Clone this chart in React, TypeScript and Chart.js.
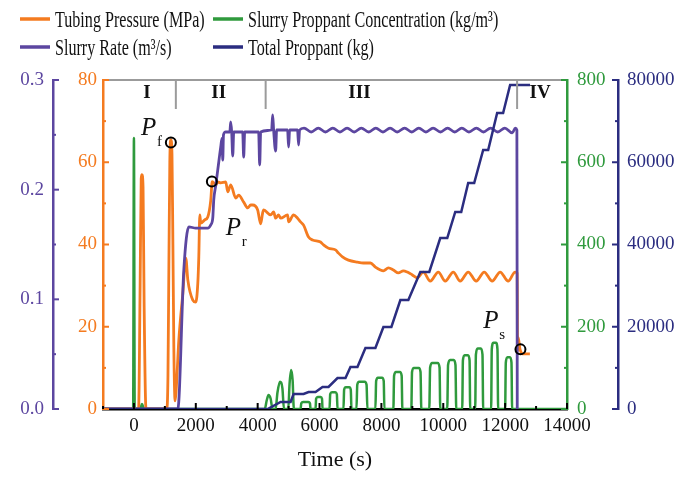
import React, { useEffect, useRef } from 'react';
import { Chart, registerables } from 'chart.js';

Chart.register(...registerables);

const SERIF = "'Liberation Serif', 'Times New Roman', Times, serif";
const ORANGE = '#f47b20';
const PURPLE = '#5c46a0';
const GREEN = '#2f9a3d';
const NAVY = '#2b2d80';
const GRAY = '#9b9b9b';
const INK = '#111111';

// ---- tick values ----
const timeTicks = [0, 2000, 4000, 6000, 8000, 10000, 12000, 14000];
const rateTicks = [0, 0.1, 0.2, 0.3];
const pressureTicks = [0, 20, 40, 60, 80];
const concTicks = [0, 200, 400, 600, 800];
const massTicks = [0, 20000, 40000, 60000, 80000];

// ---- legend labels ----
const seriesLabels = [
  'Tubing Pressure (MPa)',
  'Slurry Proppant Concentration (kg/m³)',
  'Slurry Rate (m³/s)',
  'Total Proppant (kg)',
];

// ---- stage annotations (time in s) ----
const phaseNames = ['I', 'II', 'III', 'IV'];
const phaseCenters = [419, 2742, 7290, 13130];
const phaseBounds = [1355, 4258, 12387];

// ---- marked pressure points ----
const markerTime = [1194, 2520, 12495];
const markerPressure = [64.8, 55.3, 14.5];
const markerSubs = ['f', 'r', 's'];
const markerLabelTime = [226, 2968, 11290];
const markerLabelPressure = [66.6, 42.3, 19.7];

// ---- Tubing pressure (MPa): [time s, value] ----
const pressureSeries: number[][] = [
  [-1000, 0], [150, 0], [200, 30], [235, 56], [260, 57], [295, 54], [330, 25], [390, 0],
  [1060, 0], [1100, 8], [1130, 35], [1160, 60], [1194, 65.5], [1230, 62], [1260, 40], [1290, 15], [1330, 2], [1360, 4],
  [1452, 16.8], [1581, 28.2], [1677, 36.7], [1742, 31.4], [1903, 26.5], [2000, 26], [2065, 30.6], [2097, 37],
  [2129, 47.2], [2161, 45.2], [2290, 46], [2387, 46.7], [2484, 50.8], [2530, 55.3],
  [2650, 54.5], [2710, 55.2], [2806, 55], [2968, 55.2], [3032, 52.8], [3129, 54.5], [3290, 51.3], [3387, 52],
  [3548, 50.3], [3677, 48.9], [3774, 49.6], [3839, 49.6], [4000, 48.4], [4097, 45], [4161, 47.7], [4194, 48.4],
  [4419, 47.2], [4516, 47.9], [4581, 46.4], [4677, 47.2], [4742, 46.4], [4968, 47.2], [5000, 45.5], [5161, 47.2],
  [5290, 46.4], [5387, 45.5], [5484, 44.7], [5645, 41.8], [5774, 41.1], [6032, 40.6], [6129, 39.9], [6290, 39.1],
  [6516, 38.7], [6613, 37.9], [6742, 37], [6935, 36.2], [7226, 35.7], [7419, 35.5], [7645, 35.5], [7806, 34.5],
  [7968, 33.8], [8065, 33.6], [8226, 34.3], [8387, 33.8], [8548, 33.1], [8710, 33.6], [8839, 33.3], [9000, 32.6],
  [9161, 31.9], [9355, 33.3], [9581, 31.1], [9839, 33.3], [10065, 31.1], [10323, 33.3], [10548, 31.1],
  [10806, 33.3], [11065, 31.1], [11323, 33.3], [11581, 31.1], [11839, 33.3], [12097, 31.1], [12323, 33.3],
  [12390, 33], [12400, 14], [12420, 17.5], [12480, 14.6], [12560, 13.4], [12800, 13.4],
];

// ---- Slurry rate (m³/s) ----
const rateSeries: number[][] = [
  [-1000, 0], [1419, 0], [1613, 0.127], [1774, 0.166], [2000, 0.165], [2387, 0.165], [2484, 0.168], [2548, 0.174],
  [2581, 0.191], [2645, 0.204], [2710, 0.218], [2806, 0.239], [2850, 0.247], [2871, 0.227], [2895, 0.25],
  [2968, 0.2526], [3100, 0.2526], [3129, 0.2617], [3160, 0.2526], [3194, 0.2307], [3226, 0.2526],
  [3516, 0.2526], [3548, 0.2298], [3580, 0.2526], [4032, 0.2526], [4065, 0.2225], [4097, 0.2526],
  [4452, 0.2544], [4484, 0.2681], [4516, 0.2544], [4581, 0.2352], [4613, 0.2544], [4968, 0.2544], [5000, 0.2389],
  [5032, 0.2544], [5290, 0.2544], [5323, 0.2407], [5355, 0.2544],
  [5500, 0.2562], [5730, 0.2526], [5960, 0.2562], [6190, 0.2526], [6430, 0.2562], [6660, 0.2526], [6890, 0.2562],
  [7120, 0.2526], [7350, 0.2562], [7590, 0.2526], [7820, 0.2562], [8050, 0.2526], [8280, 0.2562], [8510, 0.2526],
  [8750, 0.2562], [8980, 0.2526], [9210, 0.2562], [9440, 0.2526], [9670, 0.2562], [9910, 0.2526], [10140, 0.2562],
  [10370, 0.2526], [10600, 0.2562], [10830, 0.2526], [11070, 0.2562], [11300, 0.2526], [11530, 0.2562],
  [11760, 0.2526], [11990, 0.2562], [12230, 0.2517], [12330, 0.2562], [12380, 0.2544], [12392, 0],
];

// ---- Slurry proppant concentration (kg/m³) ----
const concSeries: number[][] = [
  [-1000, 0], [-25, 0], [0, 659], [25, 0], [200, 0], [260, 12], [330, 0],
  [4230, 0], [4290, 20], [4350, 34], [4420, 25], [4480, 0],
  [4580, 0], [4640, 40], [4720, 66], [4800, 50], [4850, 0],
  [4990, 0], [5030, 60], [5080, 95], [5130, 70], [5170, 0],
  [5387, 0], [5410, 14], [5470, 17], [5640, 17], [5690, 14], [5710, 0],
  [5871, 0], [5890, 25], [5940, 29], [6040, 29], [6080, 25], [6097, 0],
  [6323, 0], [6345, 36], [6400, 41], [6510, 41], [6560, 36], [6581, 0],
  [6774, 0], [6795, 47], [6850, 53], [6960, 53], [7010, 47], [7032, 0],
  [7194, 0], [7220, 59], [7280, 66], [7460, 66], [7520, 59], [7548, 0],
  [7806, 0], [7830, 68], [7890, 76], [8020, 76], [8075, 68], [8097, 0],
  [8387, 0], [8410, 81], [8470, 90], [8600, 90], [8655, 81], [8677, 0],
  [8968, 0], [8990, 90], [9050, 100], [9210, 100], [9265, 90], [9290, 0],
  [9548, 0], [9575, 101], [9640, 112], [9820, 112], [9880, 101], [9903, 0],
  [10129, 0], [10155, 107], [10220, 119], [10340, 119], [10395, 107], [10419, 0],
  [10613, 0], [10635, 118], [10690, 131], [10800, 131], [10850, 118], [10871, 0],
  [11032, 0], [11055, 132], [11110, 147], [11215, 147], [11268, 132], [11290, 0],
  [11548, 0], [11568, 145], [11620, 161], [11705, 161], [11752, 145], [11774, 0],
  [12000, 0], [12022, 113], [12075, 126], [12155, 126], [12205, 113], [12226, 0],
  [14000, 0],
];

// ---- Total proppant (kg) ----
const massSeries: number[][] = [
  [-1000, 0], [4323, 0], [4742, 1702], [5065, 1702], [5161, 3647], [5484, 3647], [5645, 4134], [5871, 4134],
  [6097, 5350], [6290, 5350], [6581, 7538], [6839, 7538], [7000, 10213], [7226, 10213], [7484, 14833],
  [7806, 14833], [8065, 19939], [8323, 19939], [8613, 26505], [8871, 26505], [9258, 33313], [9548, 33313],
  [9903, 41581], [10129, 41581], [10387, 47903], [10581, 47903], [10806, 54954], [11000, 54954],
  [11290, 62979], [11452, 62979], [11742, 71976], [11935, 71976], [12161, 78784], [12806, 78784],
];

const toXY = (arr: number[][]) => arr.map(([x, y]) => ({ x, y }));

function line(ctx: CanvasRenderingContext2D, x1: number, y1: number, x2: number, y2: number) {
  ctx.beginPath();
  ctx.moveTo(x1, y1);
  ctx.lineTo(x2, y2);
  ctx.stroke();
}

function drawYTicks(ctx: CanvasRenderingContext2D, scale: any, values: number[], xLine: number, dir: number, color: string) {
  ctx.strokeStyle = color;
  ctx.lineWidth = 2;
  for (let i = 0; i < values.length; i++) {
    const y = scale.getPixelForValue(values[i]);
    line(ctx, xLine, y, xLine + dir * 6, y);
    if (i < values.length - 1) {
      const ym = scale.getPixelForValue((values[i] + values[i + 1]) / 2);
      line(ctx, xLine, ym, xLine + dir * 3, ym);
    }
  }
}

const decorPlugin = {
  id: 'decor',
  afterDraw(chart: any) {
    const ctx: CanvasRenderingContext2D = chart.ctx;
    const { left, right, top, bottom } = chart.chartArea;
    const s = chart.scales;
    ctx.save();
    ctx.lineCap = 'butt';

    // top frame with stage dividers
    ctx.strokeStyle = GRAY;
    ctx.lineWidth = 2;
    line(ctx, left, top, right, top);
    phaseBounds.forEach((t) => {
      const x = s.x.getPixelForValue(t);
      line(ctx, x, top, x, top + 29);
    });
    ctx.fillStyle = INK;
    ctx.font = `bold 19px ${SERIF}`;
    ctx.textAlign = 'center';
    ctx.textBaseline = 'alphabetic';
    phaseNames.forEach((n, i) => ctx.fillText(n, s.x.getPixelForValue(phaseCenters[i]), top + 18));

    // inward ticks
    drawYTicks(ctx, s.yR, rateTicks, s.yR.right, 1, PURPLE);
    drawYTicks(ctx, s.yP, pressureTicks, s.yP.right, 1, ORANGE);
    drawYTicks(ctx, s.yC, concTicks, s.yC.left, -1, GREEN);
    drawYTicks(ctx, s.yM, massTicks, s.yM.left, -1, NAVY);
    ctx.strokeStyle = '#000';
    ctx.lineWidth = 2;
    for (let i = 0; i < timeTicks.length; i++) {
      const x = s.x.getPixelForValue(timeTicks[i]);
      line(ctx, x, bottom, x, bottom - 6);
      const xm = s.x.getPixelForValue(timeTicks[i] - 1000);
      line(ctx, xm, bottom, xm, bottom - 3);
    }

    // P annotations
    ctx.fillStyle = INK;
    ctx.textAlign = 'left';
    markerSubs.forEach((sub, i) => {
      const x = s.x.getPixelForValue(markerLabelTime[i]);
      const y = s.yP.getPixelForValue(markerLabelPressure[i]);
      ctx.font = `italic 25px ${SERIF}`;
      ctx.fillText('P', x, y);
      ctx.font = `15px ${SERIF}`;
      ctx.fillText(sub, x + 16, y + 11);
    });

    // legend (2 x 2 grid)
    const colX = [20, 213];
    const rowY = [19, 47];
    const colors = [ORANGE, GREEN, PURPLE, NAVY];
    seriesLabels.forEach((lab, i) => {
      const x = colX[i % 2];
      const y = rowY[Math.floor(i / 2)];
      ctx.strokeStyle = colors[i];
      ctx.lineWidth = 3.5;
      line(ctx, x, y, x + 30, y);
      ctx.save();
      ctx.translate(x + 35, y + 8);
      ctx.scale(0.7, 1);
      ctx.font = `23px ${SERIF}`;
      ctx.fillStyle = INK;
      ctx.textAlign = 'left';
      ctx.fillText(lab, 0, 0);
      ctx.restore();
    });
    ctx.restore();
  },
};

const tickFont = { family: SERIF, size: 19 };

export default function App() {
  const ref = useRef<HTMLCanvasElement>(null);
  useEffect(() => {
    const canvas = ref.current;
    if (!canvas) return;
    const chart = new Chart(canvas, {
      type: 'line',
      data: {
        datasets: [
          {
            label: 'markers',
            data: markerTime.map((t, i) => ({ x: t, y: markerPressure[i] })),
            yAxisID: 'yP',
            showLine: false,
            pointRadius: 5,
            pointBorderWidth: 2,
            pointBorderColor: '#000',
            pointBackgroundColor: 'rgba(0,0,0,0)',
            order: 0,
          },
          {
            label: seriesLabels[3],
            data: toXY(massSeries),
            yAxisID: 'yM',
            borderColor: NAVY,
            borderWidth: 2.5,
            pointRadius: 0,
            tension: 0,
            order: 1,
          },
          {
            label: seriesLabels[2],
            data: toXY(rateSeries),
            yAxisID: 'yR',
            borderColor: PURPLE,
            borderWidth: 2.8,
            pointRadius: 0,
            cubicInterpolationMode: 'monotone',
            order: 2,
          },
          {
            label: seriesLabels[0],
            data: toXY(pressureSeries),
            yAxisID: 'yP',
            borderColor: ORANGE,
            borderWidth: 2.8,
            pointRadius: 0,
            cubicInterpolationMode: 'monotone',
            order: 3,
          },
          {
            label: seriesLabels[1],
            data: toXY(concSeries),
            yAxisID: 'yC',
            borderColor: GREEN,
            borderWidth: 2.5,
            pointRadius: 0,
            cubicInterpolationMode: 'monotone',
            order: 4,
          },
        ],
      } as any,
      options: {
        animation: false,
        responsive: false,
        devicePixelRatio: 1,
        layout: { padding: { top: 80, left: 0, right: 0, bottom: 0 } },
        plugins: { legend: { display: false }, tooltip: { enabled: false } },
        scales: {
          x: {
            type: 'linear',
            position: 'bottom',
            min: -1000,
            max: 14000,
            z: 1,
            afterBuildTicks: (sc: any) => { sc.ticks = timeTicks.map((v) => ({ value: v })); },
            afterFit: (sc: any) => { sc.height = 68; },
            border: { display: true, color: '#000', width: 2.5 },
            grid: { display: false, drawTicks: false },
            ticks: {
              autoSkip: false, maxRotation: 0, padding: 6, color: INK, font: tickFont,
              callback: (v: any) => String(v),
            },
            title: {
              display: true, text: 'Time (s)', color: INK,
              font: { family: SERIF, size: 22 }, padding: { top: 0, bottom: 4 },
            },
          },
          yR: {
            type: 'linear', position: 'left', weight: 1, min: 0, max: 0.3,
            afterBuildTicks: (sc: any) => { sc.ticks = rateTicks.map((v) => ({ value: v })); },
            afterFit: (sc: any) => { sc.width = 53; },
            border: { display: true, color: PURPLE, width: 2.5 },
            grid: { display: false, drawTicks: false },
            ticks: { padding: 9, color: PURPLE, font: tickFont, callback: (v: any) => Number(v).toFixed(1) },
          },
          yP: {
            type: 'linear', position: 'left', weight: 0, min: 0, max: 80,
            afterBuildTicks: (sc: any) => { sc.ticks = pressureTicks.map((v) => ({ value: v })); },
            afterFit: (sc: any) => { sc.width = 50; },
            border: { display: true, color: ORANGE, width: 2.5 },
            grid: { display: false, drawTicks: false },
            ticks: { padding: 6, color: ORANGE, font: tickFont, callback: (v: any) => String(v) },
          },
          yC: {
            type: 'linear', position: 'right', weight: 0, min: 0, max: 800,
            afterBuildTicks: (sc: any) => { sc.ticks = concTicks.map((v) => ({ value: v })); },
            afterFit: (sc: any) => { sc.width = 51; },
            border: { display: true, color: GREEN, width: 2.5 },
            grid: { display: false, drawTicks: false },
            ticks: { padding: 10, color: GREEN, font: tickFont, callback: (v: any) => String(v) },
          },
          yM: {
            type: 'linear', position: 'right', weight: 1, min: 0, max: 80000,
            afterBuildTicks: (sc: any) => { sc.ticks = massTicks.map((v) => ({ value: v })); },
            afterFit: (sc: any) => { sc.width = 75; },
            border: { display: true, color: NAVY, width: 2.5 },
            grid: { display: false, drawTicks: false },
            ticks: { padding: 9, color: NAVY, font: tickFont, callback: (v: any) => String(v) },
          },
        },
      } as any,
      plugins: [decorPlugin],
    });
    return () => chart.destroy();
  }, []);

  return (
    <div style={{ position: 'fixed', left: 0, top: 0, width: 693, height: 477, background: '#fff' }}>
      <canvas ref={ref} width={693} height={477} style={{ width: 693, height: 477, display: 'block' }} />
    </div>
  );
}
